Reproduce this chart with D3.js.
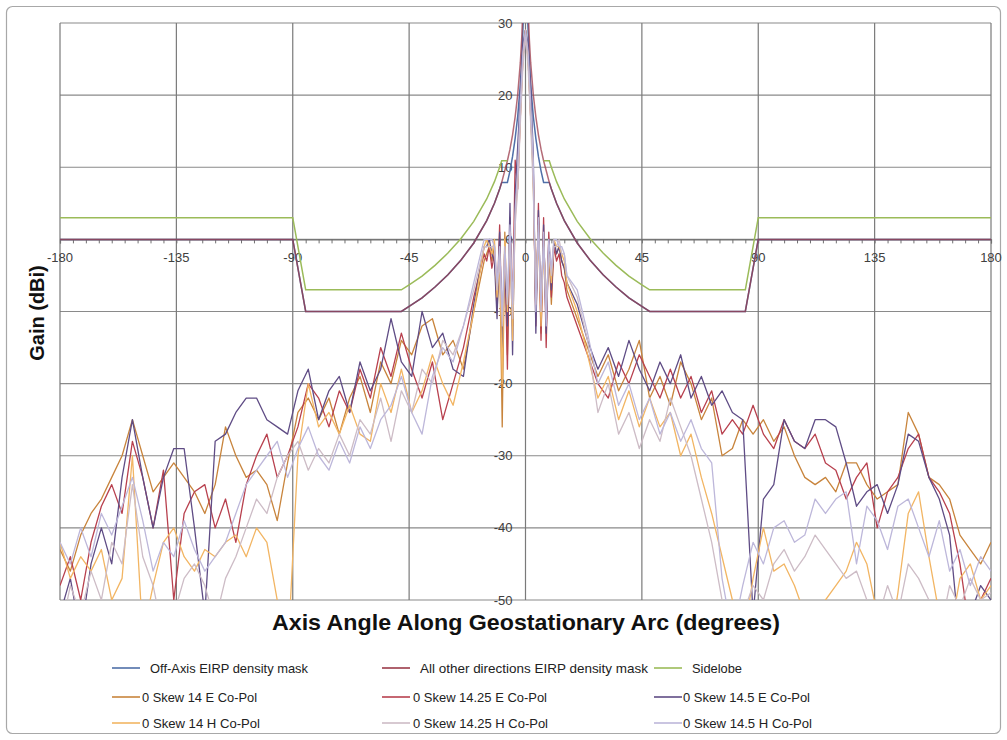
<!DOCTYPE html>
<html>
<head>
<meta charset="utf-8">
<script src="https://cdn.jsdelivr.net/npm/d3@7"></script>
<style>
  body { margin: 0; background: #fff; }
  text { font-family: "Liberation Sans", Arial, sans-serif; }
</style>
</head>
<body>
<div id="chart"></div>
<script>
// ---- data ----
var X_TICKS = [-180, -135, -90, -45, 0, 45, 90, 135, 180];
var Y_TICKS = [-50, -40, -30, -20, -10, 0, 10, 20, 30];

// mask curves (angle in degrees, gain in dBi); null = not drawn
var MASK_ANGLES = [-180, -90, -85, -48, -45, -40, -35, -30, -25, -20, -15, -12, -10, -9.2, -7, -6, -5, -4, -3, -2, -1.5, -1, 0,
  1, 1.5, 2, 3, 4, 5, 6, 7, 9.2, 10, 12, 15, 20, 25, 30, 35, 40, 45, 48, 85, 90, 180];
var OFF_AXIS_MASK = [0, 0, -10, -10, -9.3, -8.1, -6.6, -4.9, -2.9, -0.5, 2.6, 5, 7, 7.9, 7.9, 9.5, 11.5, 14, 17.1, 21.5, 24.6, 29, 40,
  29, 24.6, 21.5, 17.1, 14, 11.5, 9.5, 7.9, 7.9, 7, 5, 2.6, -0.5, -2.9, -4.9, -6.6, -8.1, -9.3, -10, -10, 0, 0];
var OTHER_DIR_MASK = [0, 0, -10, -10, -9.3, -8.1, -6.6, -4.9, -2.9, -0.5, 2.6, 5, 7, 7.9, 10.9, 12.5, 14.5, 17, 20.1, 24.5, 27.6, 32, 40,
  32, 27.6, 24.5, 20.1, 17, 14.5, 12.5, 10.9, 7.9, 7, 5, 2.6, -0.5, -2.9, -4.9, -6.6, -8.1, -9.3, -10, -10, 0, 0];
var SIDELOBE = [3, 3, -7, -7, -6.3, -5.1, -3.6, -1.9, 0.1, 2.5, 5.6, 8, 10, 10.9, 10.9, null, null, null, null, null, null, null, null,
  null, null, null, null, null, null, null, 10.9, 10.9, 10, 8, 5.6, 2.5, 0.1, -1.9, -3.6, -5.1, -6.3, -7, -7, 3, 3];

// measured patterns
var ANGLES = [-180, -176, -172, -168, -164, -160, -156, -152, -148, -144, -140, -136, -132, -128, -124, -120, -116, -112, -108, -104,
  -100, -96, -92, -88, -84, -80, -76, -72, -68, -64, -60, -56, -52, -48, -44, -40, -36, -32, -28, -24, -20, -16,
  -15, -14, -13, -12, -11, -10, -9, -8, -7, -6, -5, -4, -3, -2, -1, 0, 1, 2, 3, 4, 5, 6, 7, 8, 9, 10, 11, 12, 13, 14, 15,
  16, 20, 24, 28, 32, 36, 40, 44, 48, 52, 56, 60, 64, 68, 72, 76, 80, 84, 88, 92, 96, 100, 104, 108, 112, 116, 120,
  124, 128, 132, 136, 140, 144, 148, 152, 156, 160, 164, 168, 172, 176, 180];

var GAIN_14E = [-43, -46, -41, -38, -36, -33, -30, -25, -30, -35, -33, -31, -33, -35, -38, -34, -26, -30, -33, -32,
  -34, -39, -31, -24, -22, -25, -22, -27, -22, -19, -24, -17, -20, -14, -16, -12, -11, -16, -14, -18, -10, -3,
  -2, -1, -3, -1, -10, -2, -26, 1, -16, 2, -12, 4, 9, 18, 26, 29, 26, 19, 8, -10, 3, -13, 1, -11, -1, -9, -1, -2, -1, -3, -4,
  -7, -11, -15, -19, -16, -21, -18, -14, -22, -19, -23, -17, -20, -25, -22, -30, -29, -25, -27, -25, -28, -26, -30, -33, -34, -33, -35,
  -31, -31, -34, -36, -35, -34, -24, -27, -33, -34, -36, -41, -43, -45, -42];
var GAIN_1425E = [-48, -44, -50, -42, -37, -34, -38, -28, -33, -40, -32, -50, -38, -35, -34, -40, -36, -42, -34, -30,
  -27, -33, -30, -26, -20, -22, -26, -21, -24, -18, -22, -15, -19, -13, -18, -22, -17, -25, -20, -15, -8, -2,
  -3, -1, -4, -2, -9, 2, -14, -1, -18, 3, -10, 11, 7, 17, 25, 29, 25, 17, 10, -12, 5, -14, 3, -15, 1, -8, -1, -3, -2, -5, -6,
  -8, -12, -16, -20, -22, -17, -20, -16, -19, -22, -18, -22, -19, -24, -21, -27, -25, -27, -23, -27, -29, -25, -28, -29, -27, -31, -32,
  -36, -33, -31, -40, -35, -33, -29, -27, -33, -35, -38, -45, -55, -50, -47];
var GAIN_145E = [-52, -47, -55, -45, -40, -45, -33, -25, -33, -40, -33, -29, -29, -40, -52, -28, -27, -24, -22, -22,
  -25, -26, -27, -21, -18, -25, -21, -19, -24, -17, -21, -18, -11, -17, -19, -10, -15, -13, -18, -19, -9, -1,
  -1, 0, -2, -3, -11, 1, -15, -3, -12, 5, -16, 6, 13, 20, 27, 29, 27, 21, 12, -13, 4, -11, 2, -13, 0, -7, 0, -2, -1, -3, -4,
  -6, -9, -14, -18, -15, -19, -14, -18, -21, -17, -20, -16, -22, -19, -23, -21, -24, -25, -52, -36, -34, -25, -28, -29, -25, -25, -26,
  -31, -37, -35, -34, -38, -34, -27, -28, -33, -36, -41, -56, -52, -48, -50];
var GAIN_14H = [-42, -47, -44, -46, -43, -50, -47, -30, -55, -48, -42, -40, -44, -46, -43, -44, -42, -41, -44, -40,
  -42, -50, -58, -30, -20, -26, -24, -27, -23, -27, -28, -20, -24, -18, -24, -21, -16, -20, -23, -17, -10, -1,
  0, -1, -2, 0, -8, -2, -20, 0, -10, 1, -14, 3, 8, 17, 25, 29, 25, 17, 9, -9, 2, -12, 0, -10, -2, -6, 0, -1, -1, -2, -3,
  -6, -10, -16, -22, -19, -25, -21, -26, -22, -26, -24, -30, -27, -33, -38, -44, -50, -56, -47, -40, -46, -45, -48, -52, -56, -50, -48,
  -46, -42, -45, -52, -58, -49, -38, -35, -44, -52, -55, -47, -45, -50, -48];
var GAIN_1425H = [-55, -48, -52, -46, -50, -42, -45, -34, -44, -48, -55, -52, -47, -45, -48, -53, -47, -44, -40, -36,
  -38, -33, -30, -28, -32, -29, -31, -27, -30, -25, -27, -22, -28, -21, -24, -18, -20, -14, -16, -12, -7, -1,
  -1, -1, -1, -1, -7, -3, -12, -2, -9, 0, -11, 2, 7, 16, 24, 28, 24, 16, 7, -8, 1, -9, -1, -9, -2, -5, -1, -1, 0, -2, -2,
  -5, -8, -14, -24, -20, -27, -24, -29, -25, -28, -22, -26, -30, -36, -42, -50, -56, -52, -48, -50, -45, -43, -46, -44, -41, -43, -45,
  -47, -46, -50, -53, -48, -52, -45, -47, -50, -55, -48, -51, -47, -50, -49];
var GAIN_145H = [-42, -45, -40, -44, -38, -41, -37, -33, -39, -46, -42, -44, -39, -43, -46, -44, -42, -38, -34, -32,
  -30, -28, -33, -29, -26, -30, -32, -28, -31, -26, -29, -25, -23, -19, -24, -27, -19, -15, -17, -12, -6, 0,
  0, 0, 0, -1, -6, -1, -10, -1, -8, 2, -9, 4, 10, 19, 26, 29, 26, 19, 11, -10, 3, -10, 1, -12, 0, -4, 0, 0, -1, -1, -2,
  -5, -7, -13, -20, -17, -23, -20, -25, -22, -27, -24, -28, -25, -29, -31, -47, -55, -48, -42, -45, -40, -39, -42, -41, -36, -38, -36,
  -35, -45, -37, -39, -43, -37, -36, -40, -44, -39, -46, -43, -48, -44, -46];

var SERIES_NAMES = ["Off-Axis EIRP density mask", "All other directions EIRP density mask", "Sidelobe",
  "0 Skew 14 E Co-Pol", "0 Skew 14.25 E Co-Pol", "0 Skew 14.5 E Co-Pol",
  "0 Skew 14 H Co-Pol", "0 Skew 14.25 H Co-Pol", "0 Skew 14.5 H Co-Pol"];

// ---- styles ----
var COLORS = ["#4f6fa8", "#9b3a4a", "#9bbb59",
  "#c8843c", "#b8404e", "#5f4c85",
  "#f2b563", "#cdbcc6", "#bdb7da"];

var svgWidth = 1007;
var svgHeight = 740;

var margin = { top: 23, right: 16, bottom: 140, left: 60 };
var width = svgWidth - margin.left - margin.right;
var height = svgHeight - margin.top - margin.bottom;

var svg = d3.select("#chart")
  .append("svg")
  .attr("width", svgWidth)
  .attr("height", svgHeight);

svg.append("rect")
  .attr("width", svgWidth).attr("height", svgHeight)
  .attr("fill", "#fff");

// outer chart border
svg.append("rect")
  .attr("x", 6.5).attr("y", 6.5)
  .attr("width", svgWidth - 13).attr("height", svgHeight - 13)
  .attr("rx", 6)
  .attr("fill", "none")
  .attr("stroke", "#a8a8a8")
  .attr("stroke-width", 1.2);

var chartGroup = svg.append("g")
  .attr("transform", `translate(${margin.left}, ${margin.top})`);

var xScale = d3.scaleLinear().domain([-180, 180]).range([0, width]);
var yScale = d3.scaleLinear().domain([-50, 30]).range([height, 0]);

// gridlines
chartGroup.append("g")
  .selectAll("line.h")
  .data(Y_TICKS)
  .enter()
  .append("line")
  .attr("x1", 0).attr("x2", width)
  .attr("y1", d => yScale(d)).attr("y2", d => yScale(d))
  .attr("stroke", "#8a8a8a")
  .attr("stroke-width", 1.2);

chartGroup.append("g")
  .selectAll("line.v")
  .data(X_TICKS)
  .enter()
  .append("line")
  .attr("x1", d => xScale(d)).attr("x2", d => xScale(d))
  .attr("y1", 0).attr("y2", height)
  .attr("stroke", "#7a7a7a")
  .attr("stroke-width", 1.2);

// x axis crossing at 0 dBi, minor ticks every 5 degrees
var minorTicks = d3.range(-180, 181, 5);
var xAxis = chartGroup.append("g")
  .attr("transform", `translate(0, ${yScale(0)})`)
  .call(d3.axisBottom(xScale).tickValues(minorTicks).tickSize(4).tickFormat(""));
xAxis.select(".domain").attr("stroke", "#707070").attr("stroke-width", 1.2);
xAxis.selectAll(".tick line").attr("stroke", "#707070");

chartGroup.append("g")
  .selectAll("text")
  .data(X_TICKS)
  .enter()
  .append("text")
  .attr("x", d => xScale(d))
  .attr("y", yScale(0) + 23)
  .attr("text-anchor", "middle")
  .attr("font-size", 13)
  .attr("fill", "#404040")
  .text(d => d);

// y axis labels sit left of the 0 degree line
chartGroup.append("g")
  .selectAll("text")
  .data(Y_TICKS)
  .enter()
  .append("text")
  .attr("x", xScale(0) - 13)
  .attr("y", d => yScale(d))
  .attr("dy", "0.35em")
  .attr("text-anchor", "end")
  .attr("font-size", 13)
  .attr("fill", "#404040")
  .text(d => d);

// clip lines to plot area
svg.append("defs").append("clipPath")
  .attr("id", "plotClip")
  .append("rect")
  .attr("x", 0).attr("y", 0)
  .attr("width", width).attr("height", height);

var lineGen = d3.line()
  .defined(d => d[1] !== null)
  .x(d => xScale(d[0]))
  .y(d => yScale(d[1]));

var maskSeries = [OFF_AXIS_MASK, OTHER_DIR_MASK, SIDELOBE];
var measuredSeries = [GAIN_14E, GAIN_1425E, GAIN_145E, GAIN_14H, GAIN_1425H, GAIN_145H];

var linesGroup = chartGroup.append("g").attr("clip-path", "url(#plotClip)");

maskSeries.forEach(function (vals, i) {
  linesGroup.append("path")
    .datum(MASK_ANGLES.map((a, j) => [a, vals[j]]))
    .attr("d", lineGen)
    .attr("fill", "none")
    .attr("stroke", COLORS[i])
    .attr("stroke-opacity", i === 1 ? 0.75 : 1)
    .attr("stroke-width", 1.5);
});

measuredSeries.forEach(function (vals, i) {
  linesGroup.append("path")
    .datum(ANGLES.map((a, j) => [a, vals[j]]))
    .attr("d", lineGen)
    .attr("fill", "none")
    .attr("stroke", COLORS[i + 3])
    .attr("stroke-width", 1.3)
    .attr("stroke-linejoin", "round");
});

// axis titles
svg.append("text")
  .attr("transform", "translate(44, 313) rotate(-90)")
  .attr("text-anchor", "middle")
  .attr("font-size", 20)
  .attr("font-weight", "bold")
  .attr("fill", "#111")
  .text("Gain (dBi)");

svg.append("text")
  .attr("x", 526)
  .attr("y", 630)
  .attr("text-anchor", "middle")
  .attr("font-size", 22)
  .attr("font-weight", "bold")
  .attr("fill", "#111")
  .attr("textLength", 508)
  .attr("lengthAdjust", "spacingAndGlyphs")
  .text("Axis Angle Along Geostationary Arc (degrees)");

// legend: 3 columns x 3 rows
var legendPos = [
  { lx: 112, tx: 150, y: 668, w: 158 },
  { lx: 382, tx: 420, y: 668, w: 228 },
  { lx: 654, tx: 692, y: 668, w: 50 },
  { lx: 112, tx: 142, y: 697, w: 115 },
  { lx: 382, tx: 413, y: 697, w: 134 },
  { lx: 654, tx: 683, y: 697, w: 127 },
  { lx: 112, tx: 142, y: 723, w: 118 },
  { lx: 382, tx: 413, y: 723, w: 135 },
  { lx: 654, tx: 683, y: 723, w: 129 }
];

var legend = svg.append("g");
SERIES_NAMES.forEach(function (name, i) {
  var p = legendPos[i];
  legend.append("line")
    .attr("x1", p.lx).attr("x2", p.lx + 28)
    .attr("y1", p.y).attr("y2", p.y)
    .attr("stroke", COLORS[i])
    .attr("stroke-width", 1.6);
  legend.append("text")
    .attr("x", p.tx)
    .attr("y", p.y + 4.5)
    .attr("font-size", 13)
    .attr("fill", "#222")
    .attr("textLength", p.w)
    .attr("lengthAdjust", "spacingAndGlyphs")
    .text(name);
});
</script>
</body>
</html>
